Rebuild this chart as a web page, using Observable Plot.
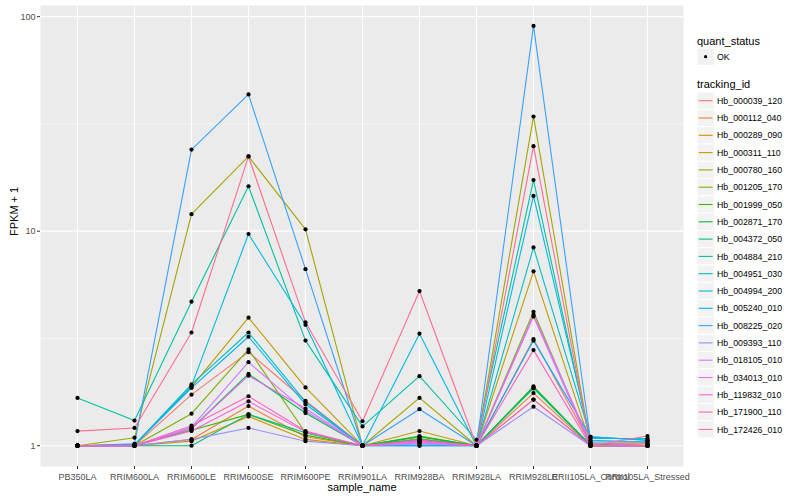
<!DOCTYPE html>
<html>
<head>
<meta charset="utf-8">
<script src="https://cdn.jsdelivr.net/npm/d3@7"></script>
<script src="https://cdn.jsdelivr.net/npm/@observablehq/plot@0.6"></script>
<style>
  html, body { margin: 0; padding: 0; background: white; }
  #wrap { position: relative; width: 800px; height: 500px; font-family: "Liberation Sans", Arial, Helvetica, sans-serif; }
  #legend { position: absolute; left: 690px; top: 0; }
</style>
</head>
<body>
<div id="wrap"><div id="chart"></div><div id="legend"></div></div>
<script>
const samples = ["PB350LA","RRIM600LA","RRIM600LE","RRIM600SE","RRIM600PE","RRIM901LA","RRIM928BA","RRIM928LA","RRIM928LE","RRII105LA_Control","RRII105LA_Stressed"];
const trackingIds = ["Hb_000039_120","Hb_000112_040","Hb_000289_090","Hb_000311_110","Hb_000780_160","Hb_001205_170","Hb_001999_050","Hb_002871_170","Hb_004372_050","Hb_004884_210","Hb_004951_030","Hb_004994_200","Hb_005240_010","Hb_008225_020","Hb_009393_110","Hb_018105_010","Hb_034013_010","Hb_119832_010","Hb_171900_110","Hb_172426_010"];
const palette = ["#F8766D","#EA8331","#D89000","#C09B00","#A3A500","#7CAE00","#39B600","#00BB4E","#00BF7D","#00C1A3","#00BFC4","#00BAE0","#00B0F6","#35A2FF","#9590FF","#C77CFF","#E76BF3","#FA62DB","#FF62BC","#FF6C91"];
const quantStatus = ["OK"];
const yTicks = [1, 10, 100];
const yMinorTicks = [3.1623, 31.623];

// FPKM + 1 per sample, one value per tracking_id (same order as trackingIds)
const PB350LA            = [1.00,1.00,1.00,1.00,1.00,1.00,1.00,1.00,1.00,1.67,1.00,1.00,1.00,1.00,1.00,1.00,1.00,1.00,1.00,1.17];
const RRIM600LA          = [1.00,1.00,1.00,1.01,1.09,1.00,1.00,1.00,1.00,1.31,1.01,1.01,1.01,1.02,1.00,1.00,1.00,1.00,1.00,1.21];
const RRIM600LE          = [1.73,1.07,1.05,1.88,12.0,1.41,1.18,1.20,1.00,4.69,1.93,1.90,1.86,24.0,1.07,1.22,1.20,1.17,1.24,3.37];
const RRIM600SE          = [2.73,1.53,1.37,3.95,22.3,2.81,1.40,2.16,1.40,16.2,3.37,9.70,3.22,43.4,1.21,2.45,2.12,1.61,1.70,22.3];
const RRIM600PE          = [1.62,1.10,1.07,1.87,10.2,1.15,1.12,1.42,1.15,3.09,1.60,3.66,1.56,6.65,1.05,1.45,1.49,1.16,1.17,3.76];
const RRIM901LA          = [1.00,1.00,1.00,1.00,1.00,1.00,1.00,1.00,1.00,1.23,1.00,1.00,1.00,1.00,1.00,1.00,1.00,1.00,1.00,1.30];
const RRIM928BA          = [1.05,1.06,1.08,1.17,1.67,1.10,1.11,1.10,1.07,2.11,1.00,3.33,1.00,1.48,1.02,1.04,1.03,1.05,1.06,5.26];
const RRIM928LA          = [1.00,1.00,1.00,1.00,1.00,1.00,1.00,1.00,1.00,1.066,1.00,1.00,1.00,1.00,1.00,1.00,1.00,1.00,1.00,1.00];
const RRIM928LE          = [3.14,1.76,1.64,6.50,34.2,4.21,1.89,1.87,1.85,17.3,8.40,14.6,3.09,90.5,1.52,4.08,4.00,1.64,2.79,24.9];
const RRII105LA_Control  = [1.02,1.00,1.00,1.02,1.00,1.00,1.00,1.01,1.00,1.04,1.10,1.08,1.10,1.06,1.00,1.03,1.00,1.00,1.00,1.00];
const RRII105LA_Stressed = [1.03,1.02,1.00,1.00,1.00,1.00,1.00,1.00,1.00,1.04,1.06,1.08,1.06,1.04,1.00,1.00,1.00,1.00,1.00,1.11];

const bySample = [PB350LA, RRIM600LA, RRIM600LE, RRIM600SE, RRIM600PE, RRIM901LA, RRIM928BA, RRIM928LA, RRIM928LE, RRII105LA_Control, RRII105LA_Stressed];
const data = [];
trackingIds.forEach((id, i) => {
  samples.forEach((s, j) => {
    data.push({tracking_id: id, sample_name: s, value: bySample[j][i], quant_status: quantStatus[0]});
  });
});

const chart = Plot.plot({
  width: 800,
  height: 500,
  marginLeft: 40,
  marginRight: 117,
  marginTop: 5,
  marginBottom: 34,
  style: {fontFamily: "Liberation Sans, Arial, Helvetica, sans-serif", fontSize: "9px", background: "white", color: "#4D4D4D"},
  x: {type: "point", domain: samples, padding: 0.6},
  y: {type: "log", domain: [0.8, 112.7]},
  color: {domain: trackingIds, range: palette},
  marks: [
    Plot.frame({fill: "#EBEBEB", stroke: null}),
    Plot.gridY(yMinorTicks, {stroke: "white", strokeOpacity: 1, strokeWidth: 0.55}),
    Plot.gridY(yTicks, {stroke: "white", strokeOpacity: 1, strokeWidth: 1.1}),
    Plot.gridX(samples, {stroke: "white", strokeOpacity: 1, strokeWidth: 1.1}),
    Plot.axisX(samples, {tickSize: 3, tickPadding: 4, stroke: "#333333", fill: "#4D4D4D", label: null}),
    Plot.axisY(yTicks, {tickSize: 3, tickPadding: 2, stroke: "#333333", fill: "#4D4D4D", label: null, tickFormat: d => String(d)}),
    Plot.line(data, {x: "sample_name", y: "value", z: "tracking_id", stroke: "tracking_id", strokeWidth: 1.1}),
    Plot.dot(data, {x: "sample_name", y: "value", r: 2.1, fill: "black", stroke: null}),
    Plot.text(["FPKM + 1"], {frameAnchor: "left", dx: -26, rotate: -90, text: d => d, fontSize: 11, fill: "black"}),
    Plot.text(["sample_name"], {frameAnchor: "bottom", dy: 24, text: d => d, fontSize: 11, fill: "black"})
  ]
});
document.getElementById("chart").appendChild(chart);

// Legend (ggplot style), drawn to the right of the plot
const lg = d3.select("#legend").append("svg")
  .attr("width", 110).attr("height", 500)
  .style("font-family", "Liberation Sans, Arial, Helvetica, sans-serif");
const lx = 7;
lg.append("text").attr("x", lx).attr("y", 44.5).attr("font-size", 11).attr("fill", "black").text("quant_status");
quantStatus.forEach((q, i) => {
  const cy = 56.7 + i * 17.3;
  lg.append("rect").attr("x", lx).attr("y", cy - 8.6).attr("width", 17.3).attr("height", 17.3).attr("fill", "#F2F2F2").attr("stroke", "white");
  lg.append("circle").attr("cx", lx + 8.6).attr("cy", cy).attr("r", 1.6).attr("fill", "black");
  lg.append("text").attr("x", lx + 20).attr("y", cy + 3.1).attr("font-size", 8.8).attr("fill", "black").text(q);
});
lg.append("text").attr("x", lx).attr("y", 88).attr("font-size", 11).attr("fill", "black").text("tracking_id");
trackingIds.forEach((id, i) => {
  const cy = 100.7 + i * 17.3;
  lg.append("rect").attr("x", lx).attr("y", cy - 8.65).attr("width", 17.3).attr("height", 17.3).attr("fill", "#F2F2F2").attr("stroke", "white");
  lg.append("line").attr("x1", lx + 1.7).attr("x2", lx + 15.6).attr("y1", cy).attr("y2", cy).attr("stroke", palette[i]).attr("stroke-width", 1.1);
  lg.append("text").attr("x", lx + 20).attr("y", cy + 3.1).attr("font-size", 8.8).attr("fill", "black").text(id);
});
</script>
</body>
</html>
